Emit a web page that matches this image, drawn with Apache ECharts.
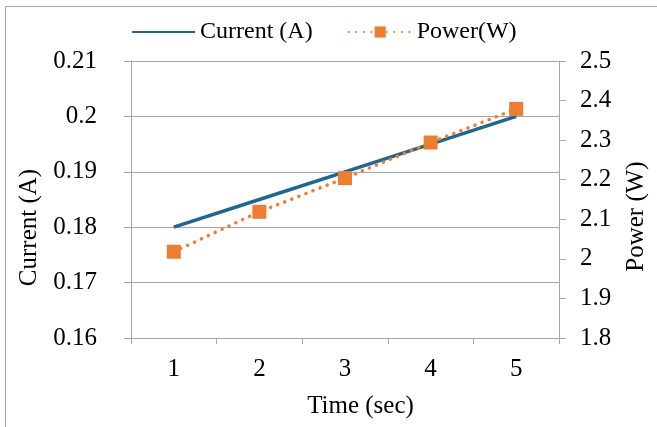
<!DOCTYPE html>
<html>
<head>
<meta charset="utf-8">
<script src="https://cdn.jsdelivr.net/npm/echarts@6/dist/echarts.min.js"></script>
<style>
  html, body { margin: 0; padding: 0; background: #fff; }
  #chart { width: 657px; height: 427px; }
</style>
</head>
<body>
<div id="chart"></div>
<script>
const timeLabels = ['1', '2', '3', '4', '5']
const currentValues = [0.18, 0.185, 0.19, 0.195, 0.2]
const powerValues = [2.018, 2.119, 2.204, 2.294, 2.379]

const font = "'Liberation Serif', 'Times New Roman', serif"
const gray = '#a6a6a6'

const chart = echarts.init(document.getElementById('chart'))

const labelStyle = { fontFamily: font, fontSize: 25, color: '#000', fontWeight: 'normal' }

chart.setOption({
  animation: false,
  textStyle: { fontFamily: font, color: '#000' },
  graphic: [
    {
      type: 'rect',
      shape: { x: 5.5, y: 6.5, width: 700, height: 500 },
      style: { fill: 'none', stroke: gray, lineWidth: 1 }
    }
  ],
  legend: {
    left: 126,
    top: 15,
    itemWidth: 63,
    itemHeight: 14,
    itemGap: 35,
    textStyle: { fontFamily: font, fontSize: 24, color: '#000' },
    data: [
      { name: 'Current (A)', itemStyle: { opacity: 0 } },
      { name: 'Power(W)' }
    ]
  },
  grid: {
    left: 131,
    right: 93,
    top: 61,
    bottom: 89
  },
  xAxis: {
    type: 'category',
    data: timeLabels,
    boundaryGap: true,
    name: 'Time (sec)',
    nameLocation: 'middle',
    nameGap: 56,
    nameTextStyle: { ...labelStyle, padding: [0, 0, 0, 31] },
    axisLine: { lineStyle: { color: gray, width: 1 } },
    axisTick: { show: true, length: 6, alignWithLabel: false, lineStyle: { color: gray } },
    axisLabel: { ...labelStyle, margin: 19 }
  },
  yAxis: [
    {
      type: 'value',
      min: 0.16,
      max: 0.21,
      interval: 0.01,
      name: 'Current (A)',
      nameLocation: 'middle',
      nameRotate: 90,
      nameGap: 89,
      nameTextStyle: { ...labelStyle, padding: [0, 56, 0, 0] },
      axisLine: { show: true, lineStyle: { color: gray, width: 1 } },
      axisTick: { show: true, length: 7, lineStyle: { color: gray } },
      axisLabel: { ...labelStyle, margin: 34 },
      splitLine: { show: true, lineStyle: { color: gray, width: 1 } }
    },
    {
      type: 'value',
      position: 'right',
      min: 1.8,
      max: 2.5,
      interval: 0.1,
      name: 'Power (W)',
      nameLocation: 'middle',
      nameRotate: 90,
      nameGap: 65,
      nameTextStyle: { ...labelStyle, padding: [0, 34, 0, 0] },
      axisLine: { show: true, lineStyle: { color: gray, width: 1 } },
      axisTick: { show: true, length: 7, lineStyle: { color: gray } },
      axisLabel: { ...labelStyle, margin: 21 },
      splitLine: { show: false }
    }
  ],
  series: [
    {
      name: 'Current (A)',
      type: 'line',
      yAxisIndex: 0,
      data: currentValues,
      symbol: 'none',
      lineStyle: { color: '#1f6690', width: 3.5 },
      itemStyle: { color: '#1f6690' }
    },
    {
      name: 'Power(W)',
      type: 'line',
      yAxisIndex: 1,
      data: powerValues,
      symbol: 'rect',
      symbolSize: 14,
      lineStyle: { color: '#ed7d31', width: 3.5, type: [0.1, 7.5], cap: 'round' },
      itemStyle: { color: '#ed7d31' }
    }
  ]
})
</script>
</body>
</html>
